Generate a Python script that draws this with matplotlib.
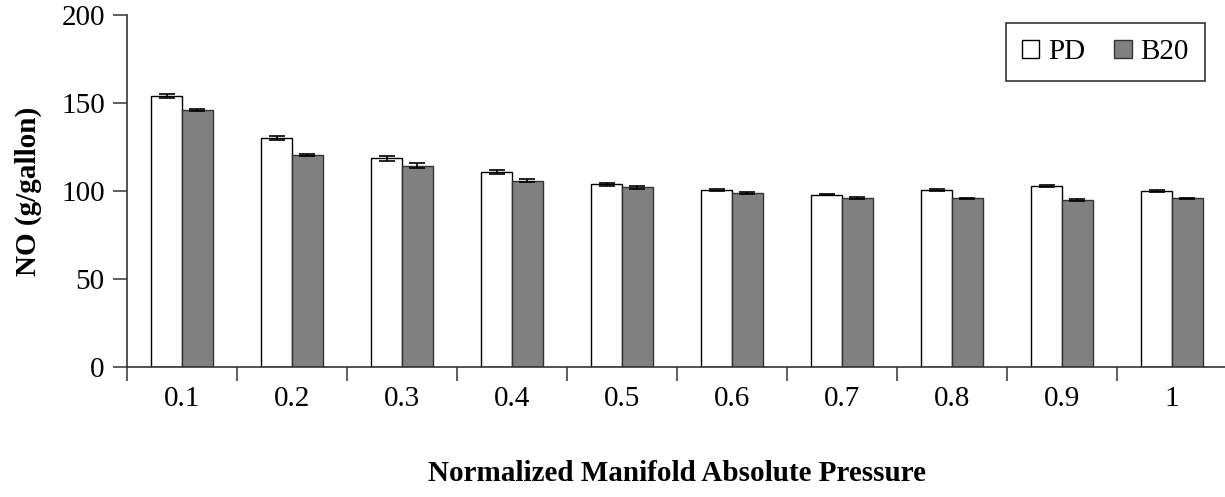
import numpy as np
import matplotlib.pyplot as plt

plt.rcParams['font.family'] = ['Liberation Serif', 'DejaVu Serif']

pressure = ['0.1', '0.2', '0.3', '0.4', '0.5', '0.6', '0.7', '0.8', '0.9', '1']
pd_no = [154.0, 130.0, 118.5, 110.8, 103.8, 100.6, 98.0, 100.6, 102.8, 100.2]
b20_no = [146.0, 120.5, 114.3, 105.8, 102.0, 99.0, 96.0, 95.8, 95.0, 95.8]
pd_err = [1.0, 1.3, 1.4, 1.2, 0.7, 0.7, 0.5, 0.8, 0.8, 0.6]
b20_err = [0.5, 0.8, 1.4, 0.8, 0.9, 0.6, 0.8, 0.4, 0.6, 0.5]

fig = plt.figure(figsize=(12.25, 4.97), dpi=100)
ax = fig.add_axes([127 / 1225, 1 - 367 / 497, 1100 / 1225, (367 - 15) / 497])

x = np.arange(len(pressure))
w = 0.28
err_kw = dict(ecolor='black', elinewidth=1.2, capsize=6, capthick=1.2)
ax.bar(x - w / 2, pd_no, w, color='white', edgecolor='black', linewidth=1,
       yerr=pd_err, error_kw=err_kw, label='PD')
ax.bar(x + w / 2, b20_no, w, color='#808080', edgecolor='#333333', linewidth=1,
       yerr=b20_err, error_kw=err_kw, label='B20')

ax.set_xlim(-0.5, len(pressure) - 0.5)
ax.set_ylim(0, 200)
ax.set_yticks([0, 50, 100, 150, 200])

# category boundaries get the tick marks, labels sit at the centres
ax.set_xticks(np.arange(-0.5, len(pressure), 1.0))
ax.set_xticklabels([])
ax.set_xticks(x, minor=True)
ax.set_xticklabels(pressure, minor=True)
ax.tick_params(axis='x', which='minor', length=0, pad=14, labelsize=21)
ax.tick_params(axis='x', which='major', length=10, width=1.2, color='#444444')
ax.tick_params(axis='y', length=10, width=1.2, color='#444444', labelsize=21, pad=6)

for s in ['top', 'right']:
    ax.spines[s].set_visible(False)
for s in ['left', 'bottom']:
    ax.spines[s].set_color('#333333')
    ax.spines[s].set_linewidth(1.2)

ax.set_ylabel('NO (g/gallon)', fontsize=21, fontweight='bold', labelpad=14)
ax.set_xlabel('Normalized Manifold Absolute Pressure', fontsize=21,
              fontweight='bold', labelpad=34)

leg = ax.legend(loc='upper right', bbox_to_anchor=(1078 / 1100, 0.977), ncol=2,
                fontsize=21, frameon=True, fancybox=False, edgecolor='black',
                handlelength=0.6, handleheight=0.6, handletextpad=0.3,
                columnspacing=1.0, borderpad=0.55, borderaxespad=0)
leg.get_frame().set_linewidth(1.2)

# chart title sits at the very top edge of the figure
fig.text(671 / 1225, 1.0, 'NO vs. Normalized Manifold Absolute Pressure',
         ha='center', va='baseline', fontsize=18)

fig.savefig('out.png', dpi=100)
